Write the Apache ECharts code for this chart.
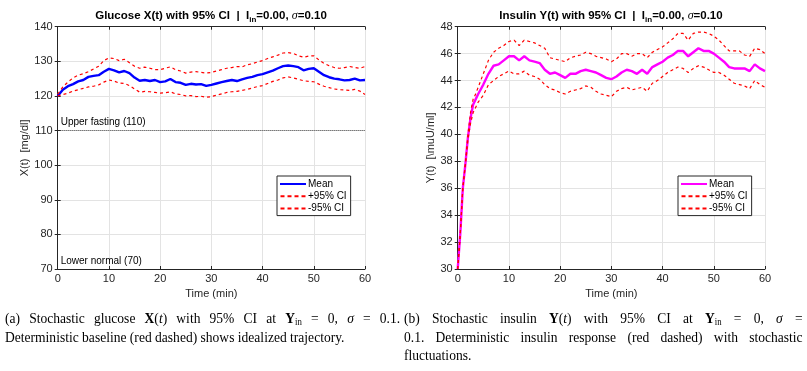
<!DOCTYPE html>
<html>
<head>
<meta charset="utf-8">
<script src="https://cdn.jsdelivr.net/npm/echarts@6/dist/echarts.min.js"></script>
<style>
  html, body { margin: 0; padding: 0; background: #fff; overflow: hidden; }
  #chart { width: 807px; height: 371px; position: absolute; left: 0; top: 0; }
  .cap { position: absolute; font-family: 'Liberation Serif', serif; font-size: 15.4px; line-height: 18.5px; color: #000;
         transform: scaleX(0.88); transform-origin: 0 0; }
  .cap div { white-space: nowrap; }
  .cap .j { text-align: justify; text-align-last: justify; white-space: normal; }
  .cap sub { font-size: 10px; vertical-align: -2px; line-height: 0; }
</style>
</head>
<body>
<div id="chart"></div>
<div class="cap" style="left:5px; top:309px; width:449px;">
  <div class="j">(a) Stochastic glucose <b>X</b>(<i>t</i>) with 95% CI at <b>Y</b><sub>in</sub> = 0, <i>σ</i> = 0.1.</div>
  <div>Deterministic baseline (red dashed) shows idealized trajectory.</div>
</div>
<div class="cap" style="left:404px; top:309px; width:453px;">
  <div class="j">(b) Stochastic insulin <b>Y</b>(<i>t</i>) with 95% CI at <b>Y</b><sub>in</sub> = 0, <i>σ</i> =</div>
  <div class="j">0.1. Deterministic insulin response (red dashed) with stochastic</div>
  <div>fluctuations.</div>
</div>
<script>
// glucose, sampled every minute
var timeG = [];
for (var i = 0; i <= 60; i++) timeG.push(i);

var glucoseMean = [120.0, 121.8, 122.8, 123.4, 124.2, 124.6, 125.5, 125.8, 126.0, 127.0,
    127.8, 127.4, 126.8, 127.2, 126.6, 125.3, 124.4, 124.6, 124.3, 124.6,
    124.0, 124.2, 124.9, 124.0, 123.8, 123.2, 123.5, 123.3, 123.4, 122.9,
    123.2, 123.6, 124.0, 124.3, 124.6, 124.3, 124.8, 125.2, 125.5, 126.0,
    126.3, 126.8, 127.3, 128.0, 128.6, 128.8, 128.6, 128.3, 127.4, 127.8,
    128.0, 127.0, 126.0, 125.4, 125.0, 124.8, 124.5, 124.6, 125.0, 124.5, 124.6];
var glucoseUp = [120.5, 122.6, 124.0, 125.2, 126.0, 126.4, 127.0, 127.8, 128.6, 130.2,
    131.0, 130.8, 130.2, 130.6, 129.6, 128.6, 128.0, 128.3, 128.0, 127.6,
    127.6, 128.0, 128.4, 127.6, 127.2, 126.6, 126.9, 127.0, 126.8, 126.6,
    126.8, 127.2, 127.6, 128.0, 128.2, 128.5, 128.4, 129.0, 129.3, 129.8,
    130.2, 130.8, 131.3, 131.8, 132.4, 132.5, 132.3, 131.6, 131.2, 131.5,
    131.6, 130.4, 129.4, 128.7, 128.2, 128.0, 128.2, 128.5, 128.2, 128.0, 128.5];
var glucoseLo = [120.0, 120.4, 120.8, 121.4, 121.8, 122.2, 122.6, 122.8, 123.2, 124.0,
    124.6, 124.3, 123.7, 123.6, 123.0, 122.0, 121.1, 121.3, 121.2, 121.0,
    120.8, 120.9, 121.2, 120.6, 120.4, 120.0, 120.1, 119.8, 119.9, 119.6,
    119.8, 120.2, 120.6, 121.0, 121.2, 121.3, 121.6, 121.9, 122.3, 122.7,
    123.0, 123.6, 124.2, 124.6, 125.2, 125.5, 125.2, 124.8, 124.4, 124.2,
    124.1, 123.4, 122.8, 122.4, 122.0, 121.8, 121.7, 121.6, 121.9, 121.4, 120.4];

// insulin, finer at the start for the fast rise
var timeI = [0, 0.5, 1, 1.5, 2, 2.5, 3, 3.5, 4];
for (var k = 5; k <= 60; k++) timeI.push(k);

var insulinMean = [30.0, 32.6, 36.0, 37.8, 39.8, 41.2, 42.2, 42.6, 43.0,
    43.7, 44.5, 45.1, 45.2, 45.5, 45.8, 45.8, 45.5, 45.8, 45.5,
    45.4, 45.3, 44.8, 44.5, 44.6, 44.4, 44.2, 44.5, 44.5, 44.7,
    44.8, 44.7, 44.6, 44.4, 44.2, 44.1, 44.3, 44.6, 44.8, 44.7,
    44.5, 44.8, 44.5, 45.0, 45.2, 45.4, 45.7, 45.9, 46.2, 46.2,
    45.8, 46.1, 46.4, 46.2, 46.2, 46.0, 45.7, 45.4, 45.0, 44.9,
    44.9, 44.9, 44.7, 45.2, 44.9, 44.7];
var insulinUp = [30.0, 32.6, 36.0, 37.9, 40.0, 41.6, 42.6, 43.0, 43.5,
    44.5, 45.5, 46.1, 46.4, 46.6, 46.9, 47.0, 46.6, 47.0, 46.9,
    46.8, 46.6, 46.4, 45.7, 45.6, 45.5, 45.4, 45.7, 45.8, 45.9,
    46.1, 46.0, 45.8, 45.7, 45.6, 45.4, 45.6, 46.0, 46.0, 45.8,
    46.0, 46.0, 45.7, 46.1, 46.3, 46.5, 46.8, 47.1, 47.5, 47.5,
    47.0, 47.5, 47.6, 47.6, 47.5, 47.3, 47.0, 46.6, 46.2, 46.2,
    46.2, 45.9, 45.8, 46.4, 46.3, 46.0];
var insulinLo = [30.0, 32.6, 36.0, 37.7, 39.6, 40.8, 41.6, 42.0, 42.4,
    42.9, 43.7, 44.0, 44.3, 44.5, 44.7, 44.5, 44.5, 44.7, 44.4,
    44.3, 44.1, 43.7, 43.4, 43.3, 43.1, 43.0, 43.2, 43.3, 43.4,
    43.6, 43.5, 43.2, 43.0, 42.9, 42.8, 43.2, 43.4, 43.5, 43.3,
    43.4, 43.5, 43.2, 43.8, 44.0, 44.3, 44.6, 44.8, 45.0, 44.9,
    44.6, 44.9, 45.1, 45.0, 44.8, 44.6, 44.6, 44.4, 44.1, 43.8,
    43.7, 43.6, 43.4, 44.0, 43.7, 43.5];

var glucoseRefs = [110, 70];
var glucoseRefLabels = ['Upper fasting (110)', 'Lower normal (70)'];

function pairs(xs, ys) {
    var out = [];
    for (var i = 0; i < xs.length; i++) out.push([xs[i], ys[i]]);
    return out;
}

var axisCol = '#262626';
var font = 'Liberation Sans';
var dashIcon = 'path://M0,0h4v2h-4z M7,0h4v2h-4z M14,0h4v2h-4z M21,0h4v2h-4z';

function xAxes(idx) {
    return [{
        type: 'value', gridIndex: idx, min: 0, max: 60, interval: 10,
        name: 'Time (min)', nameLocation: 'middle', nameGap: 18,
        nameTextStyle: { fontFamily: font, fontSize: 11, color: axisCol },
        axisLine: { lineStyle: { color: axisCol, width: 1 } },
        axisTick: { inside: true, length: 3, lineStyle: { color: axisCol } },
        axisLabel: { fontFamily: font, fontSize: 11, color: axisCol, margin: 4 },
        splitLine: { lineStyle: { color: '#e3e3e3', width: 1 } }
    }, {
        type: 'value', gridIndex: idx, min: 0, max: 60, interval: 10, position: 'top',
        axisLine: { lineStyle: { color: axisCol, width: 1 } },
        axisTick: { inside: true, length: 3, lineStyle: { color: axisCol } },
        axisLabel: { show: false }, splitLine: { show: false }
    }];
}

function yAxes(idx, min, max, step, name, gap) {
    return [{
        type: 'value', gridIndex: idx, min: min, max: max, interval: step,
        name: name, nameLocation: 'middle', nameGap: gap,
        nameTextStyle: { fontFamily: font, fontSize: 11, color: axisCol },
        axisLine: { show: true, lineStyle: { color: axisCol, width: 1 } },
        axisTick: { show: true, inside: true, length: 3, lineStyle: { color: axisCol } },
        axisLabel: { fontFamily: font, fontSize: 11, color: axisCol, margin: 5 },
        splitLine: { lineStyle: { color: '#e3e3e3', width: 1 } }
    }, {
        type: 'value', gridIndex: idx, min: min, max: max, interval: step, position: 'right',
        axisLine: { show: true, lineStyle: { color: axisCol, width: 1 } },
        axisTick: { show: true, inside: true, length: 3, lineStyle: { color: axisCol } },
        axisLabel: { show: false }, splitLine: { show: false }
    }];
}

function ciSeries(name, xIdx, yIdx, data) {
    return {
        name: name, type: 'line', xAxisIndex: xIdx, yAxisIndex: yIdx,
        data: data, showSymbol: false, symbol: 'none', z: 4,
        lineStyle: { color: '#ff0000', width: 1.2, type: [3, 3] },
        itemStyle: { color: '#ff0000' }
    };
}

function legendFor(tag, left) {
    return {
        data: [
            { name: 'Mean|' + tag, icon: 'rect' },
            { name: '+95% CI|' + tag, icon: dashIcon },
            { name: '-95% CI|' + tag, icon: dashIcon }
        ],
        left: left, top: 176, orient: 'vertical',
        itemWidth: 26, itemHeight: 2, itemGap: 0.3,
        padding: [2, 4, 1, 3],
        borderColor: '#262626', borderWidth: 1, backgroundColor: '#fff',
        textStyle: { fontFamily: font, fontSize: 10, color: '#000', padding: [0, 0, 0, -3], lineHeight: 12 },
        formatter: function (n) { return n.split('|')[0]; }
    };
}

var chart = echarts.init(document.getElementById('chart'));

var titleRich = {
    b: { fontFamily: font, fontSize: 11.5, fontWeight: 'bold', color: '#000', lineHeight: 16 },
    sub: { fontFamily: font, fontSize: 8, fontWeight: 'bold', color: '#000', verticalAlign: 'bottom', lineHeight: 10, padding: [6, 0, 0, 0] },
    s: { fontFamily: 'Liberation Serif', fontSize: 12, fontStyle: 'italic', fontWeight: 'normal', color: '#000', lineHeight: 16 }
};

var option = {
    animation: false,
    backgroundColor: 'transparent',
    title: [{
        text: '{b|Glucose X(t) with 95% CI  |  I}{sub|in}{b|=0.00, }{s|σ}{b|=0.10}',
        left: 206, top: 3, textAlign: 'center',
        textStyle: { rich: titleRich }
    }, {
        text: '{b|Insulin Y(t) with 95% CI  |  I}{sub|in}{b|=0.00, }{s|σ}{b|=0.10}',
        left: 606, top: 3, textAlign: 'center',
        textStyle: { rich: titleRich }
    }],
    grid: [
        { left: 57.7, right: 442, top: 26.7, bottom: 102 },
        { left: 457.7, right: 42, top: 26.7, bottom: 102 }
    ],
    xAxis: xAxes(0).concat(xAxes(1)),
    yAxis: yAxes(0, 70, 140, 10, 'X(t)  [mg/dl]', 23).concat(yAxes(1, 30, 48, 2, 'Y(t)  [\\muU/ml]', 20)),
    legend: [legendFor('a', 277), legendFor('b', 678)],
    series: [{
        name: 'Mean|a', type: 'line', xAxisIndex: 0, yAxisIndex: 0,
        data: pairs(timeG, glucoseMean), showSymbol: false, symbol: 'none', z: 3,
        lineStyle: { color: '#0000ff', width: 2.4 }, itemStyle: { color: '#0000ff' },
        markLine: {
            silent: true, symbol: 'none',
            lineStyle: { color: '#222', width: 0.8, type: [1, 1] },
            label: { show: true, position: 'insideStartTop', distance: [3, 3], fontFamily: font, fontSize: 10, color: '#000',
                formatter: function (p) { return glucoseRefLabels[glucoseRefs.indexOf(p.value)]; } },
            data: glucoseRefs.map(function (v) { return { yAxis: v }; })
        }
    },
        ciSeries('+95% CI|a', 0, 0, pairs(timeG, glucoseUp)),
        ciSeries('-95% CI|a', 0, 0, pairs(timeG, glucoseLo)),
    {
        name: 'Mean|b', type: 'line', xAxisIndex: 2, yAxisIndex: 2,
        data: pairs(timeI, insulinMean), showSymbol: false, symbol: 'none', z: 3,
        lineStyle: { color: '#ff00ff', width: 2.4 }, itemStyle: { color: '#ff00ff' }
    },
        ciSeries('+95% CI|b', 2, 2, pairs(timeI, insulinUp)),
        ciSeries('-95% CI|b', 2, 2, pairs(timeI, insulinLo))
    ]
};

chart.setOption(option);
</script>
</body>
</html>
